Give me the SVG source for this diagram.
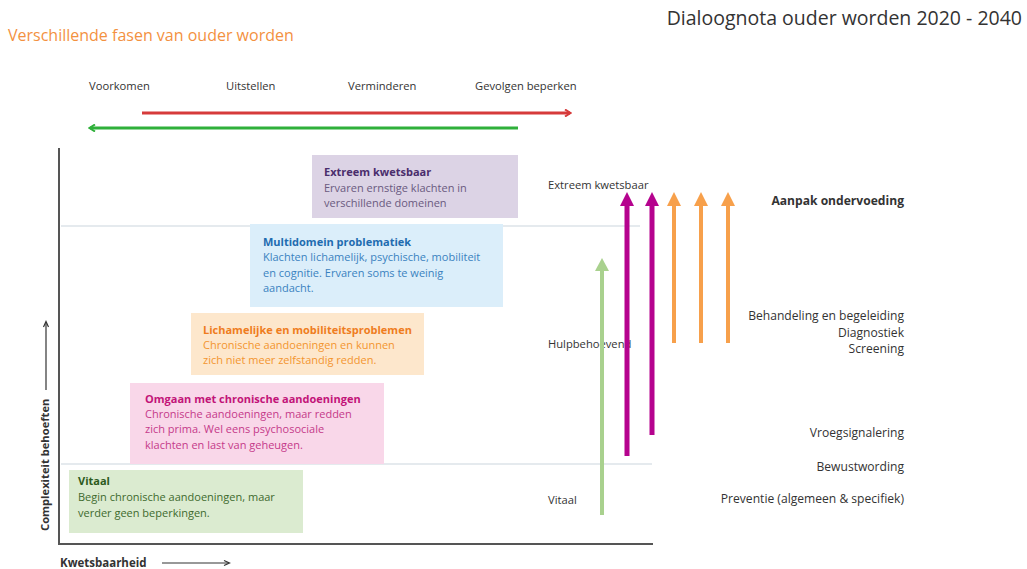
<svg xmlns="http://www.w3.org/2000/svg" width="1027" height="569" viewBox="0 0 1027 569">
<defs>
<style>
text{font-family:"Open Sans","Liberation Sans",sans-serif;}
.t{font-size:11.2px;fill:#333;}
.r{font-size:12.1px;fill:#333;text-anchor:end;}
.bx{font-size:11px;}
.h{font-weight:bold;}
.ax{stroke:#555;stroke-width:2;fill:none;}
.grid{stroke:#dde3e8;stroke-width:1.5;}
</style>
<marker id="mr" markerWidth="8" markerHeight="8" refX="6" refY="4" orient="auto" markerUnits="userSpaceOnUse"><path d="M1,0.5 L6.5,4 L1,7.5" fill="none" stroke="#d63a3a" stroke-width="2"/></marker>
<marker id="mg" markerWidth="8" markerHeight="8" refX="6" refY="4" orient="auto" markerUnits="userSpaceOnUse"><path d="M1,0.5 L6.5,4 L1,7.5" fill="none" stroke="#2fb03a" stroke-width="2"/></marker>
<marker id="mk" markerWidth="8" markerHeight="8" refX="6" refY="4" orient="auto" markerUnits="userSpaceOnUse"><path d="M1,1.5 L6.5,4 L1,6.5" fill="none" stroke="#333" stroke-width="1.2"/></marker>
</defs>
<rect width="1027" height="569" fill="#fff"/>
<text x="8" y="41" style="font-size:16px;fill:#f3913f">Verschillende fasen van ouder worden</text>
<text x="1022" y="25" style="font-size:19.5px;fill:#333;text-anchor:end">Dialoognota ouder worden 2020 - 2040</text>

<g id="phases">
<text class="t" x="89" y="90">Voorkomen</text>
<text class="t" x="226" y="90">Uitstellen</text>
<text class="t" x="348" y="90">Verminderen</text>
<text class="t" x="475" y="90">Gevolgen beperken</text>
</g>

<g id="axes">
<line class="ax" x1="59" y1="148" x2="59" y2="544"/>
<line class="ax" x1="58" y1="544" x2="653" y2="544"/>
<line class="grid" x1="61" y1="226" x2="640" y2="226"/>
<line class="grid" x1="61" y1="464" x2="652" y2="464"/>
<text x="0" y="0" transform="translate(49,531) rotate(-90)" style="font-size:11.2px;font-weight:bold;fill:#333">Complexiteit behoeften</text>
<text x="60" y="567" style="font-size:11.5px;font-weight:bold;fill:#333">Kwetsbaarheid</text>
</g>

<g id="box-extreem">
<rect x="312" y="155" width="206" height="63" fill="#dcd3e5"/>
<text class="bx h" x="324" y="176" fill="#4a2d6c">Extreem kwetsbaar</text>
<text class="bx" x="324" y="192" fill="#6a5a80">Ervaren ernstige klachten in</text>
<text class="bx" x="324" y="207" fill="#6a5a80">verschillende domeinen</text>
</g>
<g id="box-multidomein">
<rect x="250" y="224" width="253" height="83" fill="#dbeefa"/>
<text class="bx h" x="263" y="246" fill="#1f6cb0">Multidomein problematiek</text>
<text class="bx" x="263" y="261" fill="#3a82c0">Klachten lichamelijk, psychische, mobiliteit</text>
<text class="bx" x="263" y="277" fill="#3a82c0">en cognitie. Ervaren soms te weinig</text>
<text class="bx" x="263" y="292" fill="#3a82c0">aandacht.</text>
</g>
<g id="box-lichamelijk">
<rect x="191" y="313" width="233" height="62" fill="#fde7cc"/>
<text class="bx h" x="203" y="334" fill="#ef7d1e">Lichamelijke en mobiliteitsproblemen</text>
<text class="bx" x="203" y="349" fill="#f3952f">Chronische aandoeningen en kunnen</text>
<text class="bx" x="203" y="364" fill="#f3952f">zich niet meer zelfstandig redden.</text>
</g>
<g id="box-omgaan">
<rect x="130" y="383" width="254" height="81" fill="#f9d7e9"/>
<text class="bx h" x="145" y="403" fill="#c21478">Omgaan met chronische aandoeningen</text>
<text class="bx" x="145" y="418" fill="#c53a89">Chronische aandoeningen, maar redden</text>
<text class="bx" x="145" y="433" fill="#c53a89">zich prima. Wel eens psychosociale</text>
<text class="bx" x="145" y="449" fill="#c53a89">klachten en last van geheugen.</text>
</g>
<g id="box-vitaal">
<rect x="69" y="470" width="234" height="63" fill="#dbebd0"/>
<text class="bx h" x="78" y="485" fill="#2d5a1d">Vitaal</text>
<text class="bx" x="78" y="501" fill="#3e6a2e">Begin chronische aandoeningen, maar</text>
<text class="bx" x="78" y="517" fill="#3e6a2e">verder geen beperkingen.</text>
</g>

<g id="levels">
<text class="t" x="548" y="189">Extreem kwetsbaar</text>
<text class="t" x="548" y="348">Hulpbehoevend</text>
<text class="t" x="548" y="504">Vitaal</text>
</g>

<g id="labels-right">
<text class="r h" x="904" y="205">Aanpak ondervoeding</text>
<text class="r" x="904" y="320">Behandeling en begeleiding</text>
<text class="r" x="904" y="337">Diagnostiek</text>
<text class="r" x="904" y="353">Screening</text>
<text class="r" x="904" y="437">Vroegsignalering</text>
<text class="r" x="904" y="471">Bewustwording</text>
<text class="r" x="904" y="503">Preventie (algemeen &amp; specifiek)</text>
</g>

<g id="connectors">
<line x1="142" y1="113" x2="570" y2="113" stroke="#d63a3a" stroke-width="3" marker-end="url(#mr)"/>
<line x1="518" y1="128" x2="90" y2="128" stroke="#2fb03a" stroke-width="3" marker-end="url(#mg)"/>
<line x1="46" y1="390" x2="46" y2="322" stroke="#333" stroke-width="1.2" marker-end="url(#mk)"/>
<line x1="162" y1="563" x2="229" y2="563" stroke="#333" stroke-width="1.2" marker-end="url(#mk)"/>

<line x1="602" y1="515" x2="602" y2="270" stroke="#a9d18e" stroke-width="4"/>
<polygon points="602,258 595,271 609,271" fill="#a9d18e"/>
<line x1="627" y1="456" x2="627" y2="204" stroke="#b5038e" stroke-width="5"/>
<polygon points="627,192 620,206 634,206" fill="#b5038e"/>
<line x1="652" y1="435" x2="652" y2="204" stroke="#b5038e" stroke-width="5"/>
<polygon points="652,192 645,206 659,206" fill="#b5038e"/>
<line x1="674" y1="343" x2="674" y2="204" stroke="#f7a04b" stroke-width="4"/>
<polygon points="674,192 667,206 681,206" fill="#f7a04b"/>
<line x1="701" y1="343" x2="701" y2="204" stroke="#f7a04b" stroke-width="4"/>
<polygon points="701,192 694,206 708,206" fill="#f7a04b"/>
<line x1="728" y1="343" x2="728" y2="204" stroke="#f7a04b" stroke-width="4"/>
<polygon points="728,192 721,206 735,206" fill="#f7a04b"/>
</g>
</svg>
